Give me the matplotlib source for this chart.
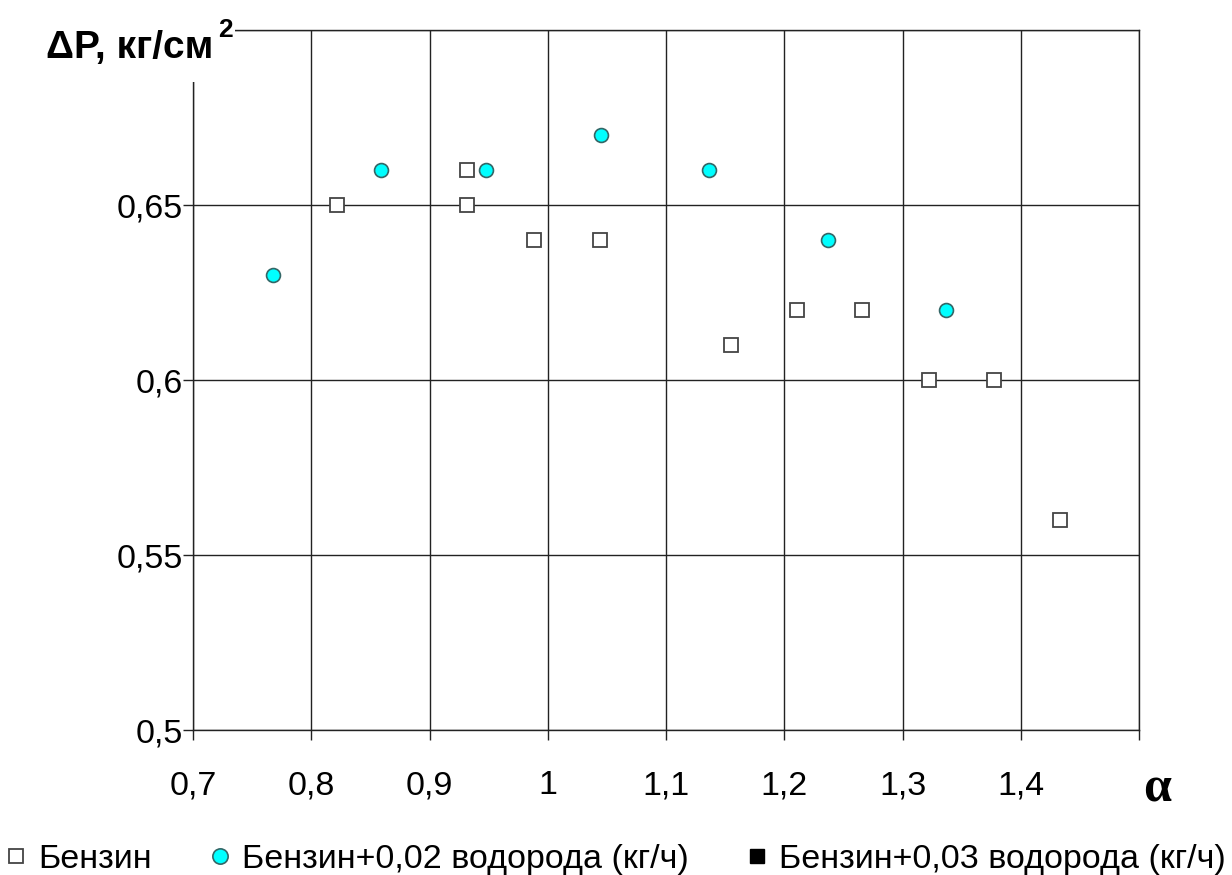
import matplotlib.pyplot as plt
from matplotlib.lines import Line2D

plt.rcParams['font.family'] = ['Liberation Sans', 'DejaVu Sans']

# Бензин
benz_x = [0.822, 0.932, 0.932, 0.988, 1.044, 1.155, 1.211, 1.266, 1.322, 1.377, 1.433]
benz_y = [0.65, 0.66, 0.65, 0.64, 0.64, 0.61, 0.62, 0.62, 0.60, 0.60, 0.56]
# Бензин+0,02 водорода
h02_x = [0.768, 0.859, 0.948, 1.045, 1.136, 1.237, 1.337]
h02_y = [0.63, 0.66, 0.66, 0.67, 0.66, 0.64, 0.62]
# Бензин+0,03 водорода (нет точек на графике)
h03_x = []
h03_y = []

x_ticks = [0.7, 0.8, 0.9, 1.0, 1.1, 1.2, 1.3, 1.4, 1.5]
x_labels = ['0,7', '0,8', '0,9', '1', '1,1', '1,2', '1,3', '1,4', '']
y_ticks = [0.5, 0.55, 0.6, 0.65, 0.7]
y_labels = ['0,5', '0,55', '0,6', '0,65', '']

fig = plt.figure(figsize=(12.32, 8.75), dpi=100)
ax = fig.add_axes([0.1567, 0.1657, 0.7678, 0.8])

ax.plot(benz_x, benz_y, linestyle='none', marker='s', markersize=9.5,
        markerfacecolor='white', markeredgecolor='#444444', markeredgewidth=1.3, zorder=3)
ax.plot(h02_x, h02_y, linestyle='none', marker='o', markersize=10,
        markerfacecolor='#00ffff', markeredgecolor='#336666', markeredgewidth=1.2, zorder=3)
ax.plot(h03_x, h03_y, linestyle='none', marker='s', markersize=9.5,
        markerfacecolor='black', markeredgecolor='black', zorder=3)

ax.set_xlim(0.7, 1.5)
ax.set_ylim(0.5, 0.7)
ax.set_xticks(x_ticks)
ax.set_xticklabels(x_labels)
ax.set_yticks(y_ticks)
ax.set_yticklabels(y_labels)
ax.grid(True, color='#222222', linewidth=1)
ax.set_axisbelow(True)
for s in ax.spines.values():
    s.set_color('#222222')
    s.set_linewidth(1)
ax.tick_params(direction='out', length=7, width=1, color='#222222',
               labelsize=24.5)
ax.tick_params(axis='x', pad=22)
ax.tick_params(axis='y', pad=0)

# подпись оси Y сверху слева
ax.text(-0.155, 0.975, 'ΔP, кг/см', transform=ax.transAxes,
        fontsize=28, fontweight='bold', ha='left', va='center', clip_on=False,
        bbox=dict(facecolor='white', edgecolor='none', pad=12), zorder=10)
ax.text(0.026, 1.0, '2', transform=ax.transAxes, fontsize=19, fontweight='bold',
        ha='left', va='center', clip_on=False,
        bbox=dict(facecolor='white', edgecolor='none', pad=2), zorder=10)
ax.text(1.004, -0.085, 'α', transform=ax.transAxes, fontsize=36, fontweight='bold',
        family=['Liberation Serif', 'DejaVu Serif'], ha='left', va='center')

handles = [
    Line2D([], [], linestyle='none', marker='s', markersize=10.5,
           markerfacecolor='white', markeredgecolor='#444444', markeredgewidth=1.3),
    Line2D([], [], linestyle='none', marker='o', markersize=11,
           markerfacecolor='#00ffff', markeredgecolor='#336666', markeredgewidth=1.2),
    Line2D([], [], linestyle='none', marker='s', markersize=10.5,
           markerfacecolor='black', markeredgecolor='black'),
]
labels = ['Бензин', 'Бензин+0,02 водорода (кг/ч)', 'Бензин+0,03 водорода (кг/ч)']
fig.legend(handles, labels, loc='center', bbox_to_anchor=(0.5, 0.018), ncol=3,
           frameon=False, fontsize=24.5, handlelength=0.6, handletextpad=0.35,
           columnspacing=1.7, borderaxespad=0)

fig.savefig('out.png', dpi=100)
